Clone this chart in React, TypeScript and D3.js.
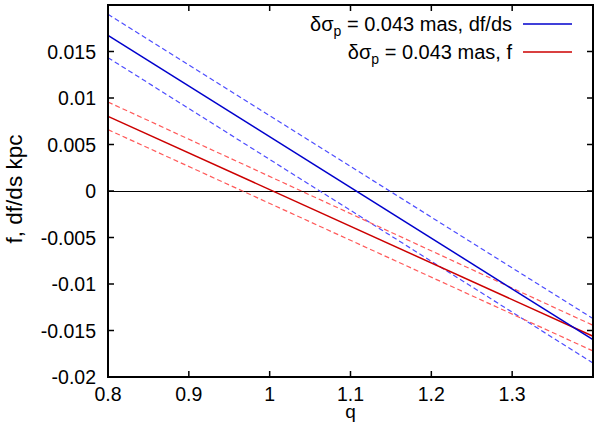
import React, { useRef, useEffect } from 'react';
import * as d3 from 'd3';

const qPoints = [0.8, 1.4];

// blue: df/ds with its upper/lower bounds
const dfdsMid = [0.01674, -0.01598];
const dfdsHigh = [0.0190, -0.01372];
const dfdsLow = [0.01434, -0.0185];

// red: f with its upper/lower bounds
const fMid = [0.00803, -0.01562];
const fHigh = [0.00957, -0.01444];
const fLow = [0.0066, -0.0172];

const xTicks = [0.8, 0.9, 1, 1.1, 1.2, 1.3];
const yTicks = [-0.02, -0.015, -0.01, -0.005, 0, 0.005, 0.01, 0.015];

const legendLabels = ['df/ds', 'f'];

const App = () => {
  const svgRef = useRef<SVGSVGElement | null>(null);

  useEffect(() => {
    const width = 598;
    const height = 428;
    const margin = { top: 5, right: 5, bottom: 51, left: 108 };
    const font = '"Liberation Sans", Arial, Helvetica, sans-serif';
    const fs = 19.5;

    const svg = d3.select(svgRef.current)
      .attr('width', width)
      .attr('height', height);

    svg.selectAll('*').remove();

    const x = d3.scaleLinear()
      .domain([0.8, 1.4])
      .range([margin.left, width - margin.right]);

    const y = d3.scaleLinear()
      .domain([-0.02, 0.02])
      .range([height - margin.bottom, margin.top]);

    const line = d3.line<[number, number]>()
      .x(d => x(d[0]))
      .y(d => y(d[1]));

    const plot = svg.append('g');

    // zero line
    plot.append('line')
      .attr('x1', x(0.8)).attr('x2', x(1.4))
      .attr('y1', y(0) + 0.5).attr('y2', y(0) + 0.5)
      .attr('stroke', 'black').attr('stroke-width', 1.2)
      .attr('shape-rendering', 'crispEdges');

    const series = [
      { v: dfdsHigh, color: '#4d4dff', dash: '5,3', w: 1.2 },
      { v: dfdsLow, color: '#4d4dff', dash: '5,3', w: 1.2 },
      { v: fHigh, color: '#ff5a5a', dash: '5,3', w: 1.2 },
      { v: fLow, color: '#ff5a5a', dash: '5,3', w: 1.2 },
      { v: fMid, color: '#cc0000', dash: null, w: 1.5 },
      { v: dfdsMid, color: '#0000cc', dash: null, w: 1.5 },
    ];

    series.forEach(s => {
      plot.append('path')
        .datum(qPoints.map((q, i) => [q, s.v[i]] as [number, number]))
        .attr('fill', 'none')
        .attr('stroke', s.color)
        .attr('stroke-width', s.w)
        .attr('stroke-dasharray', s.dash)
        .attr('d', line);
    });

    // ticks on all four sides, pointing inward
    const tickLen = 6;
    const axes = svg.append('g').attr('stroke', 'black').attr('stroke-width', 1.5);
    xTicks.forEach(t => {
      axes.append('line').attr('x1', x(t)).attr('x2', x(t))
        .attr('y1', y(-0.02)).attr('y2', y(-0.02) - tickLen);
      axes.append('line').attr('x1', x(t)).attr('x2', x(t))
        .attr('y1', y(0.02)).attr('y2', y(0.02) + tickLen);
    });
    yTicks.forEach(t => {
      axes.append('line').attr('x1', x(0.8)).attr('x2', x(0.8) + tickLen)
        .attr('y1', y(t)).attr('y2', y(t));
      axes.append('line').attr('x1', x(1.4)).attr('x2', x(1.4) - tickLen)
        .attr('y1', y(t)).attr('y2', y(t));
    });

    // frame
    svg.append('rect')
      .attr('x', x(0.8)).attr('y', y(0.02))
      .attr('width', x(1.4) - x(0.8))
      .attr('height', y(-0.02) - y(0.02))
      .attr('fill', 'none')
      .attr('stroke', 'black')
      .attr('stroke-width', 2);

    // tick labels
    svg.append('g').selectAll('text')
      .data(xTicks)
      .join('text')
      .attr('x', d => x(d))
      .attr('y', 400.5)
      .attr('text-anchor', 'middle')
      .attr('font-family', font)
      .attr('font-size', fs)
      .text(d => String(d));

    svg.append('g').selectAll('text')
      .data(yTicks)
      .join('text')
      .attr('x', 96)
      .attr('y', d => y(d) + 7)
      .attr('text-anchor', 'end')
      .attr('font-family', font)
      .attr('font-size', fs)
      .text(d => String(d));

    // axis titles
    svg.append('text')
      .attr('x', x(1.1))
      .attr('y', 418)
      .attr('text-anchor', 'middle')
      .attr('font-family', font)
      .attr('font-size', 19)
      .text('q');

    svg.append('text')
      .attr('transform', `translate(22,189) rotate(-90)`)
      .attr('text-anchor', 'middle')
      .attr('font-family', font)
      .attr('font-size', 22.5)
      .text('f, df/ds kpc');

    // legend
    const legendColors = ['#0000cc', '#cc0000'];
    legendLabels.forEach((lab, i) => {
      const ly = 24 + i * 28;
      const t = svg.append('text')
        .attr('x', 512)
        .attr('y', ly + 7)
        .attr('text-anchor', 'end')
        .attr('font-family', font)
        .attr('font-size', 20);
      t.append('tspan').text('δσ');
      t.append('tspan').attr('font-size', 14).attr('dy', 5).text('p');
      t.append('tspan').attr('dy', -5).text(` = 0.043 mas, ${lab}`);
      svg.append('line')
        .attr('x1', 523).attr('x2', 572)
        .attr('y1', ly).attr('y2', ly)
        .attr('stroke', legendColors[i])
        .attr('stroke-width', 1.5);
    });
  }, []);

  return (
    <svg ref={svgRef} style={{ position: 'absolute', left: 0, top: 0 }}></svg>
  );
};

export default App;
